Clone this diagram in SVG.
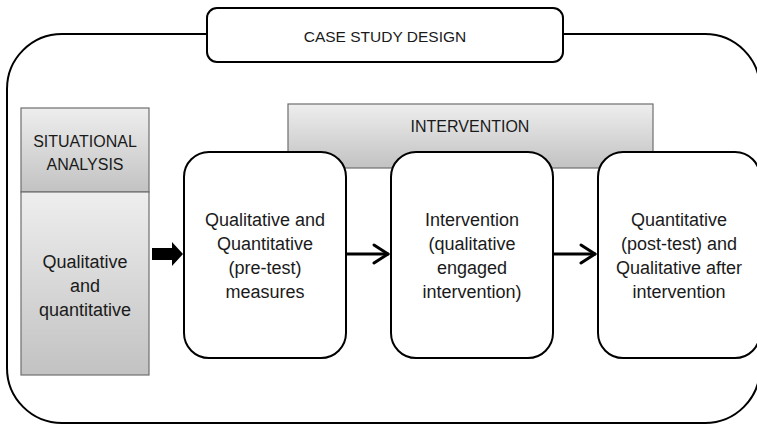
<svg xmlns="http://www.w3.org/2000/svg" width="757" height="426" viewBox="0 0 757 426">
  <defs>
    <linearGradient id="gray" x1="0" y1="0" x2="0" y2="1">
      <stop offset="0" stop-color="#eeeeee"/>
      <stop offset="1" stop-color="#c2c2c2"/>
    </linearGradient>
    <style>
      .outer { fill: #ffffff; stroke: #000000; stroke-width: 2; }
      .box { fill: #ffffff; stroke: #000000; stroke-width: 2; }
      .grey { fill: url(#gray); stroke: #6e6e6e; stroke-width: 1.2; }
      text { font-family: "Liberation Sans", Arial, sans-serif; fill: #1a1a1a; text-anchor: middle; }
      .t { font-size: 18px; }
      .caps { font-size: 16px; }
      .conn { fill: none; stroke: #000000; stroke-width: 3; stroke-linecap: round; stroke-linejoin: round; }
    </style>
  </defs>

  <rect class="outer" x="7" y="34" width="753" height="389" rx="55" ry="55"/>

  <g id="case-study-design">
    <rect class="box" x="207" y="8" width="356" height="54" rx="10" ry="10"/>
    <text class="caps" x="385" y="42" style="font-size:15.5px">CASE STUDY DESIGN</text>
  </g>

  <g id="situational-analysis">
    <rect class="grey" x="21" y="108" width="128" height="84"/>
    <text class="caps" x="85" y="147">SITUATIONAL</text>
    <text class="caps" x="85" y="170">ANALYSIS</text>
  </g>

  <g id="qualitative-quantitative">
    <rect class="grey" x="21" y="192" width="128" height="183"/>
    <text class="t" x="85" y="268">Qualitative</text>
    <text class="t" x="85" y="292">and</text>
    <text class="t" x="85" y="316">quantitative</text>
  </g>

  <g id="intervention-bar">
    <rect class="grey" x="288" y="104" width="365" height="64"/>
    <text class="caps" x="470" y="132">INTERVENTION</text>
  </g>

  <g id="pre-test">
    <rect class="box" x="184" y="152" width="162" height="206" rx="25" ry="25"/>
    <text class="t" x="265" y="226">Qualitative and</text>
    <text class="t" x="265" y="250">Quantitative</text>
    <text class="t" x="265" y="274">(pre-test)</text>
    <text class="t" x="265" y="298">measures</text>
  </g>

  <g id="intervention">
    <rect class="box" x="391" y="152" width="162" height="206" rx="25" ry="25"/>
    <text class="t" x="472" y="226">Intervention</text>
    <text class="t" x="472" y="250">(qualitative</text>
    <text class="t" x="472" y="274">engaged</text>
    <text class="t" x="472" y="298">intervention)</text>
  </g>

  <g id="post-test">
    <rect class="box" x="598" y="152" width="162" height="206" rx="25" ry="25"/>
    <text class="t" x="679" y="226">Quantitative</text>
    <text class="t" x="679" y="250">(post-test) and</text>
    <text class="t" x="679" y="274">Qualitative after</text>
    <text class="t" x="679" y="298">intervention</text>
  </g>

  <g id="connectors">
    <polygon points="152,248 172,248 172,242 183,254 172,266 172,260 152,260" fill="#000000"/>
    <line class="conn" x1="347" y1="254" x2="388" y2="254"/>
    <polyline class="conn" points="374,245 388,254 374,263"/>
    <line class="conn" x1="554" y1="254" x2="595" y2="254"/>
    <polyline class="conn" points="581,245 595,254 581,263"/>
  </g>
</svg>
